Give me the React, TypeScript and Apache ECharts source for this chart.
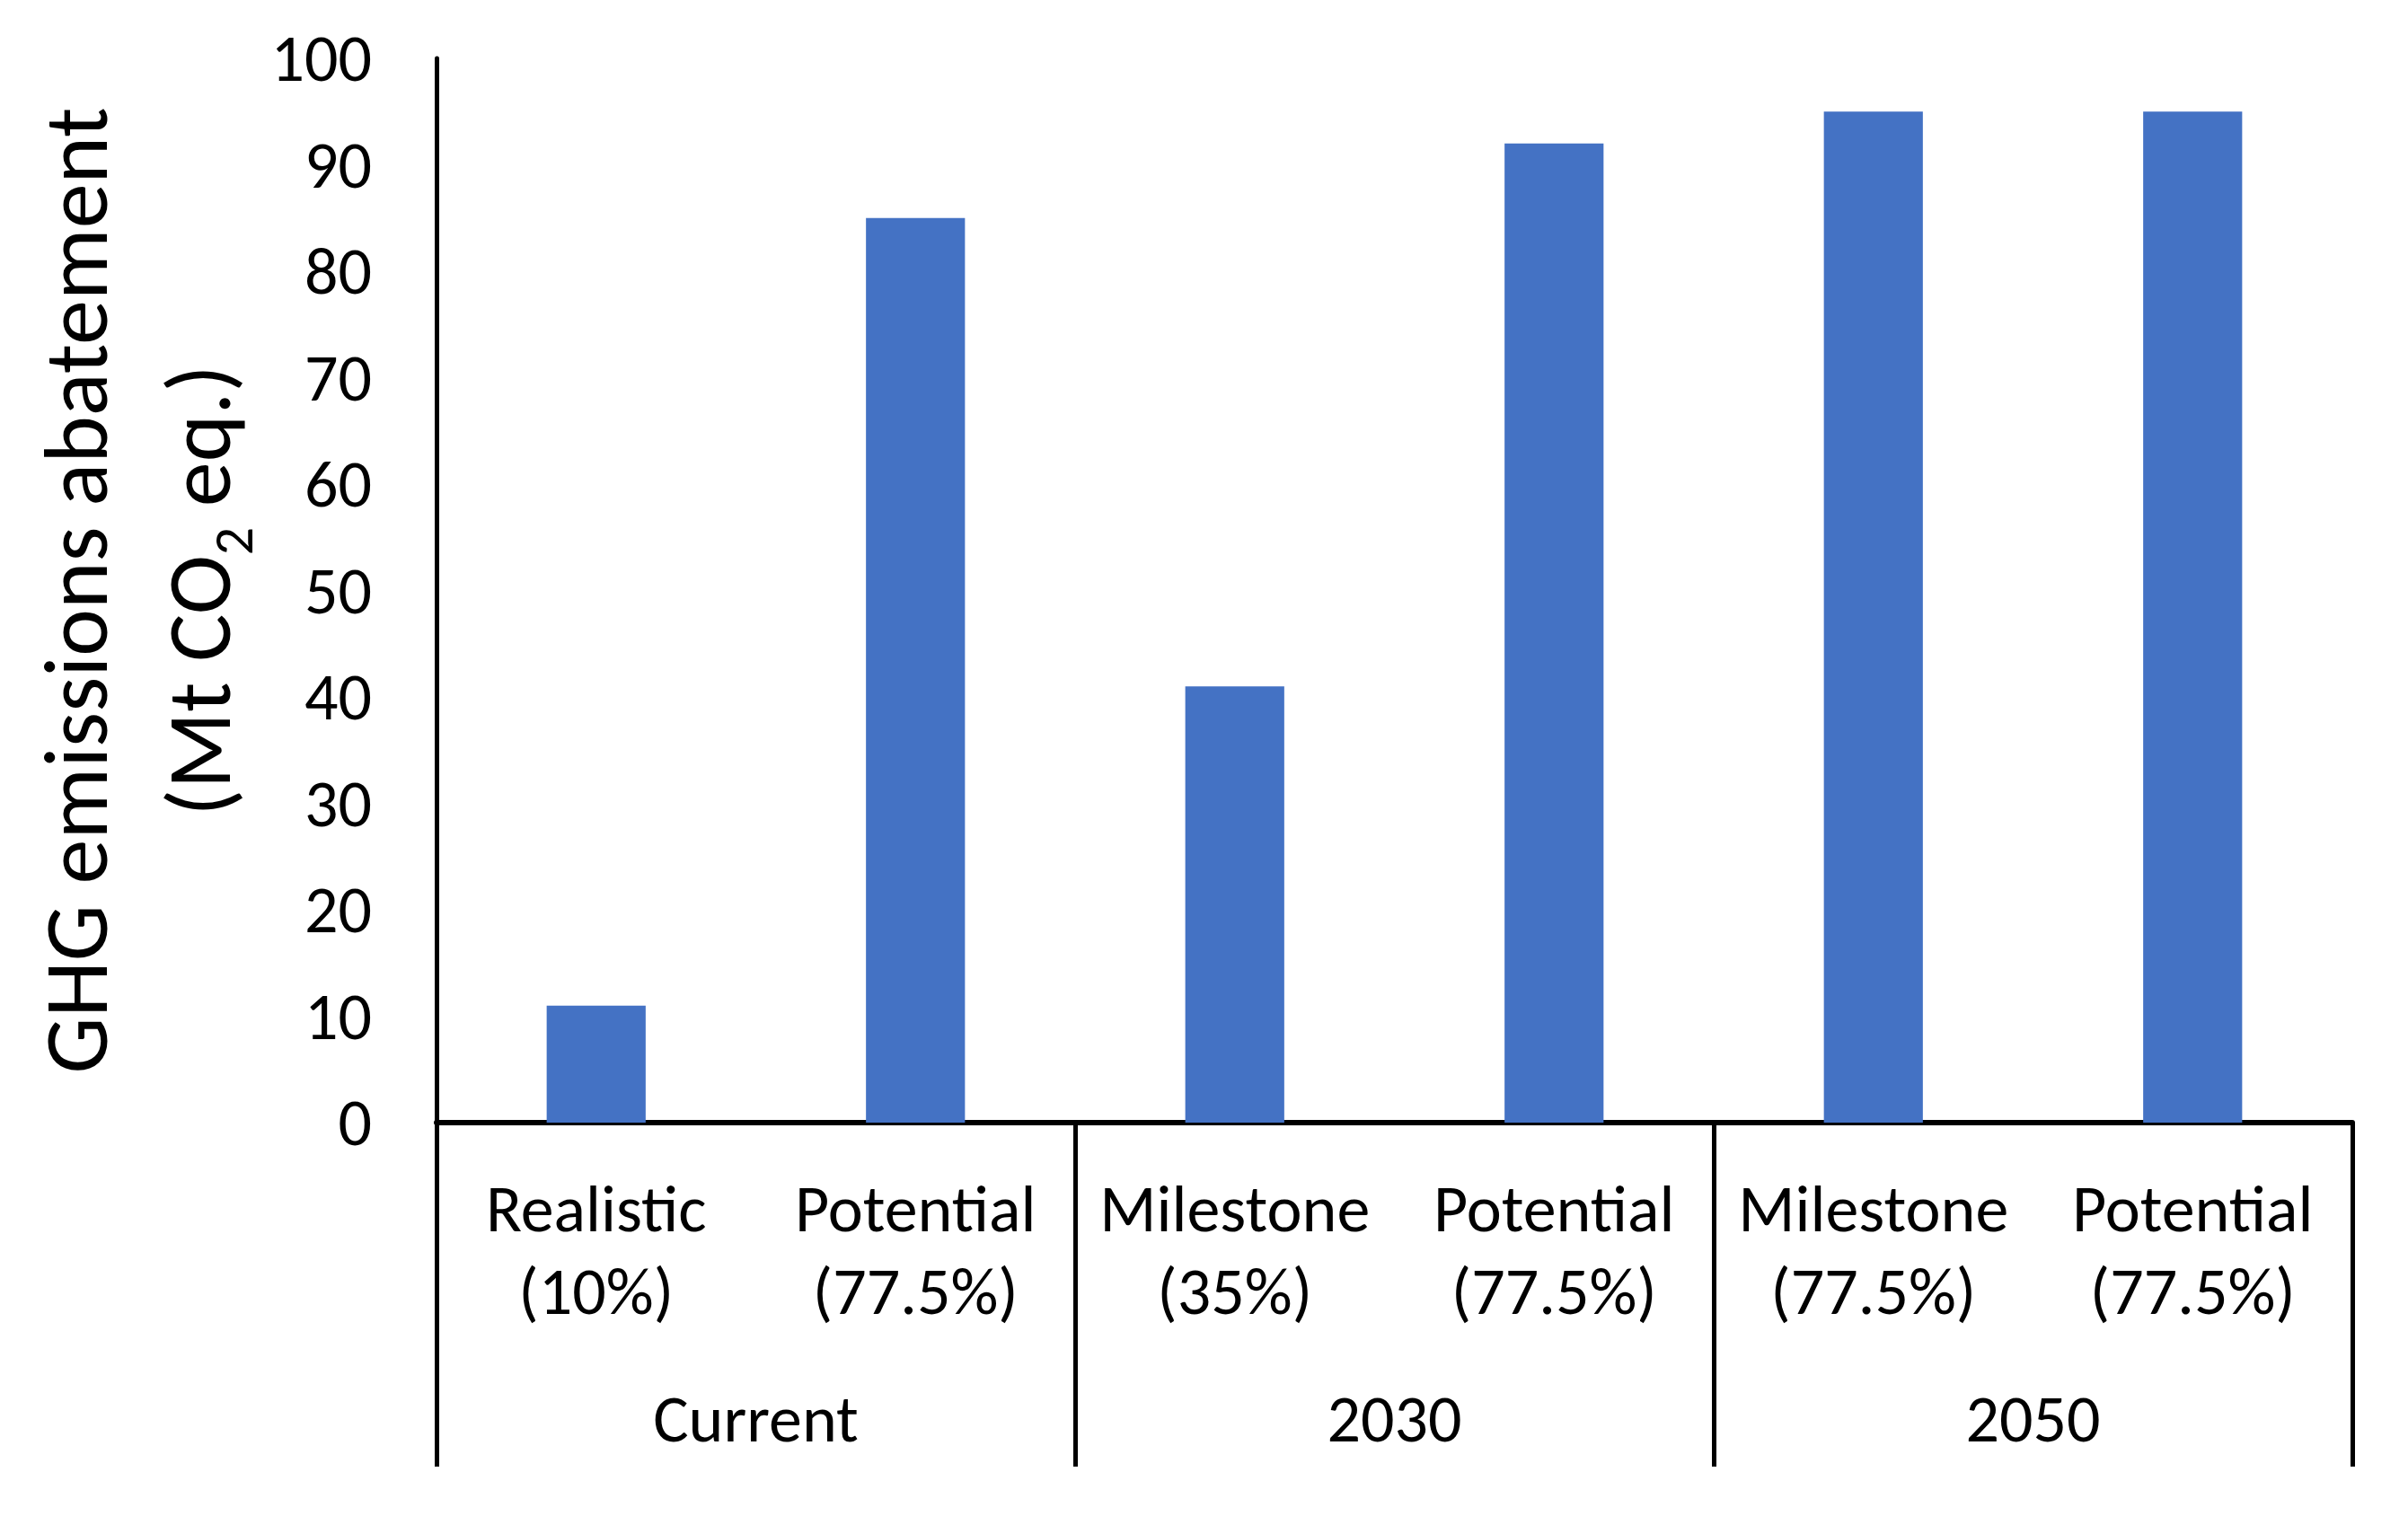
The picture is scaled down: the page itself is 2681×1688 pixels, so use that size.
import React, { useEffect, useRef } from "react";
import * as echarts from "echarts";

const categories = [
  "Realistic\n(10%)",
  "Potential\n(77.5%)",
  "Milestone\n(35%)",
  "Potential\n(77.5%)",
  "Milestone\n(77.5%)",
  "Potential\n(77.5%)",
];
const groups = ["Current", "2030", "2050"];
const values = [11, 85, 41, 92, 95, 95];
const yMin = 0;
const yMax = 100;
const yInterval = 10;

const FONT = "Carlito, Lato, 'Noto Sans', sans-serif";

export default function App() {
  const ref = useRef<HTMLDivElement>(null);
  useEffect(() => {
    if (!ref.current) return;
    const chart = echarts.init(ref.current, null, { renderer: "svg" });
    chart.setOption({
      animation: false,
      backgroundColor: "#ffffff",
      textStyle: { fontFamily: FONT },
      grid: { left: 486, right: 62, top: 65, bottom: 438, containLabel: false },
      xAxis: [
        {
          type: "category",
          data: categories,
          position: "bottom",
          axisLine: { show: true, lineStyle: { color: "#000", width: 6 } },
          axisTick: { show: false },
          axisLabel: {
            interval: 0,
            margin: 50,
            color: "#000",
            fontFamily: FONT,
            fontSize: 74,
            lineHeight: 92,
          },
          splitLine: { show: false },
        },
        {
          type: "category",
          data: groups,
          position: "bottom",
          axisLine: { show: false },
          axisTick: { show: true, length: 383, lineStyle: { color: "#000", width: 5 } },
          axisLabel: {
            interval: 0,
            margin: 284,
            color: "#000",
            fontFamily: FONT,
            fontSize: 74,
            lineHeight: 92,
          },
          splitLine: { show: false },
        },
      ],
      yAxis: {
        type: "value",
        min: yMin,
        max: yMax,
        interval: yInterval,
        axisLine: { show: true, lineStyle: { color: "#000", width: 5 } },
        axisTick: { show: false },
        splitLine: { show: false },
        axisLabel: { color: "#000", fontFamily: FONT, fontSize: 74, margin: 72 },
        name: "GHG emissions abatement\n{n|(Mt CO}{sub|2}{n| eq.)}",
        nameLocation: "middle",
        nameRotate: 90,
        nameGap: 190,
        nameTextStyle: {
          color: "#000",
          fontFamily: FONT,
          fontSize: 100,
          lineHeight: 137,
          rich: {
            n: { fontFamily: FONT, fontSize: 100, color: "#000", lineHeight: 137 },
            sub: { fontFamily: FONT, fontSize: 62, color: "#000", lineHeight: 104, verticalAlign: "bottom" },
          },
        },
      },
      series: [
        {
          type: "bar",
          data: values,
          xAxisIndex: 0,
          barWidth: "31%",
          itemStyle: { color: "#4472C4" },
        },
      ],
    });
    return () => chart.dispose();
  }, []);
  return (
    <div
      ref={ref}
      style={{ position: "absolute", left: 0, top: 0, width: 2681, height: 1688, background: "#fff" }}
    />
  );
}
